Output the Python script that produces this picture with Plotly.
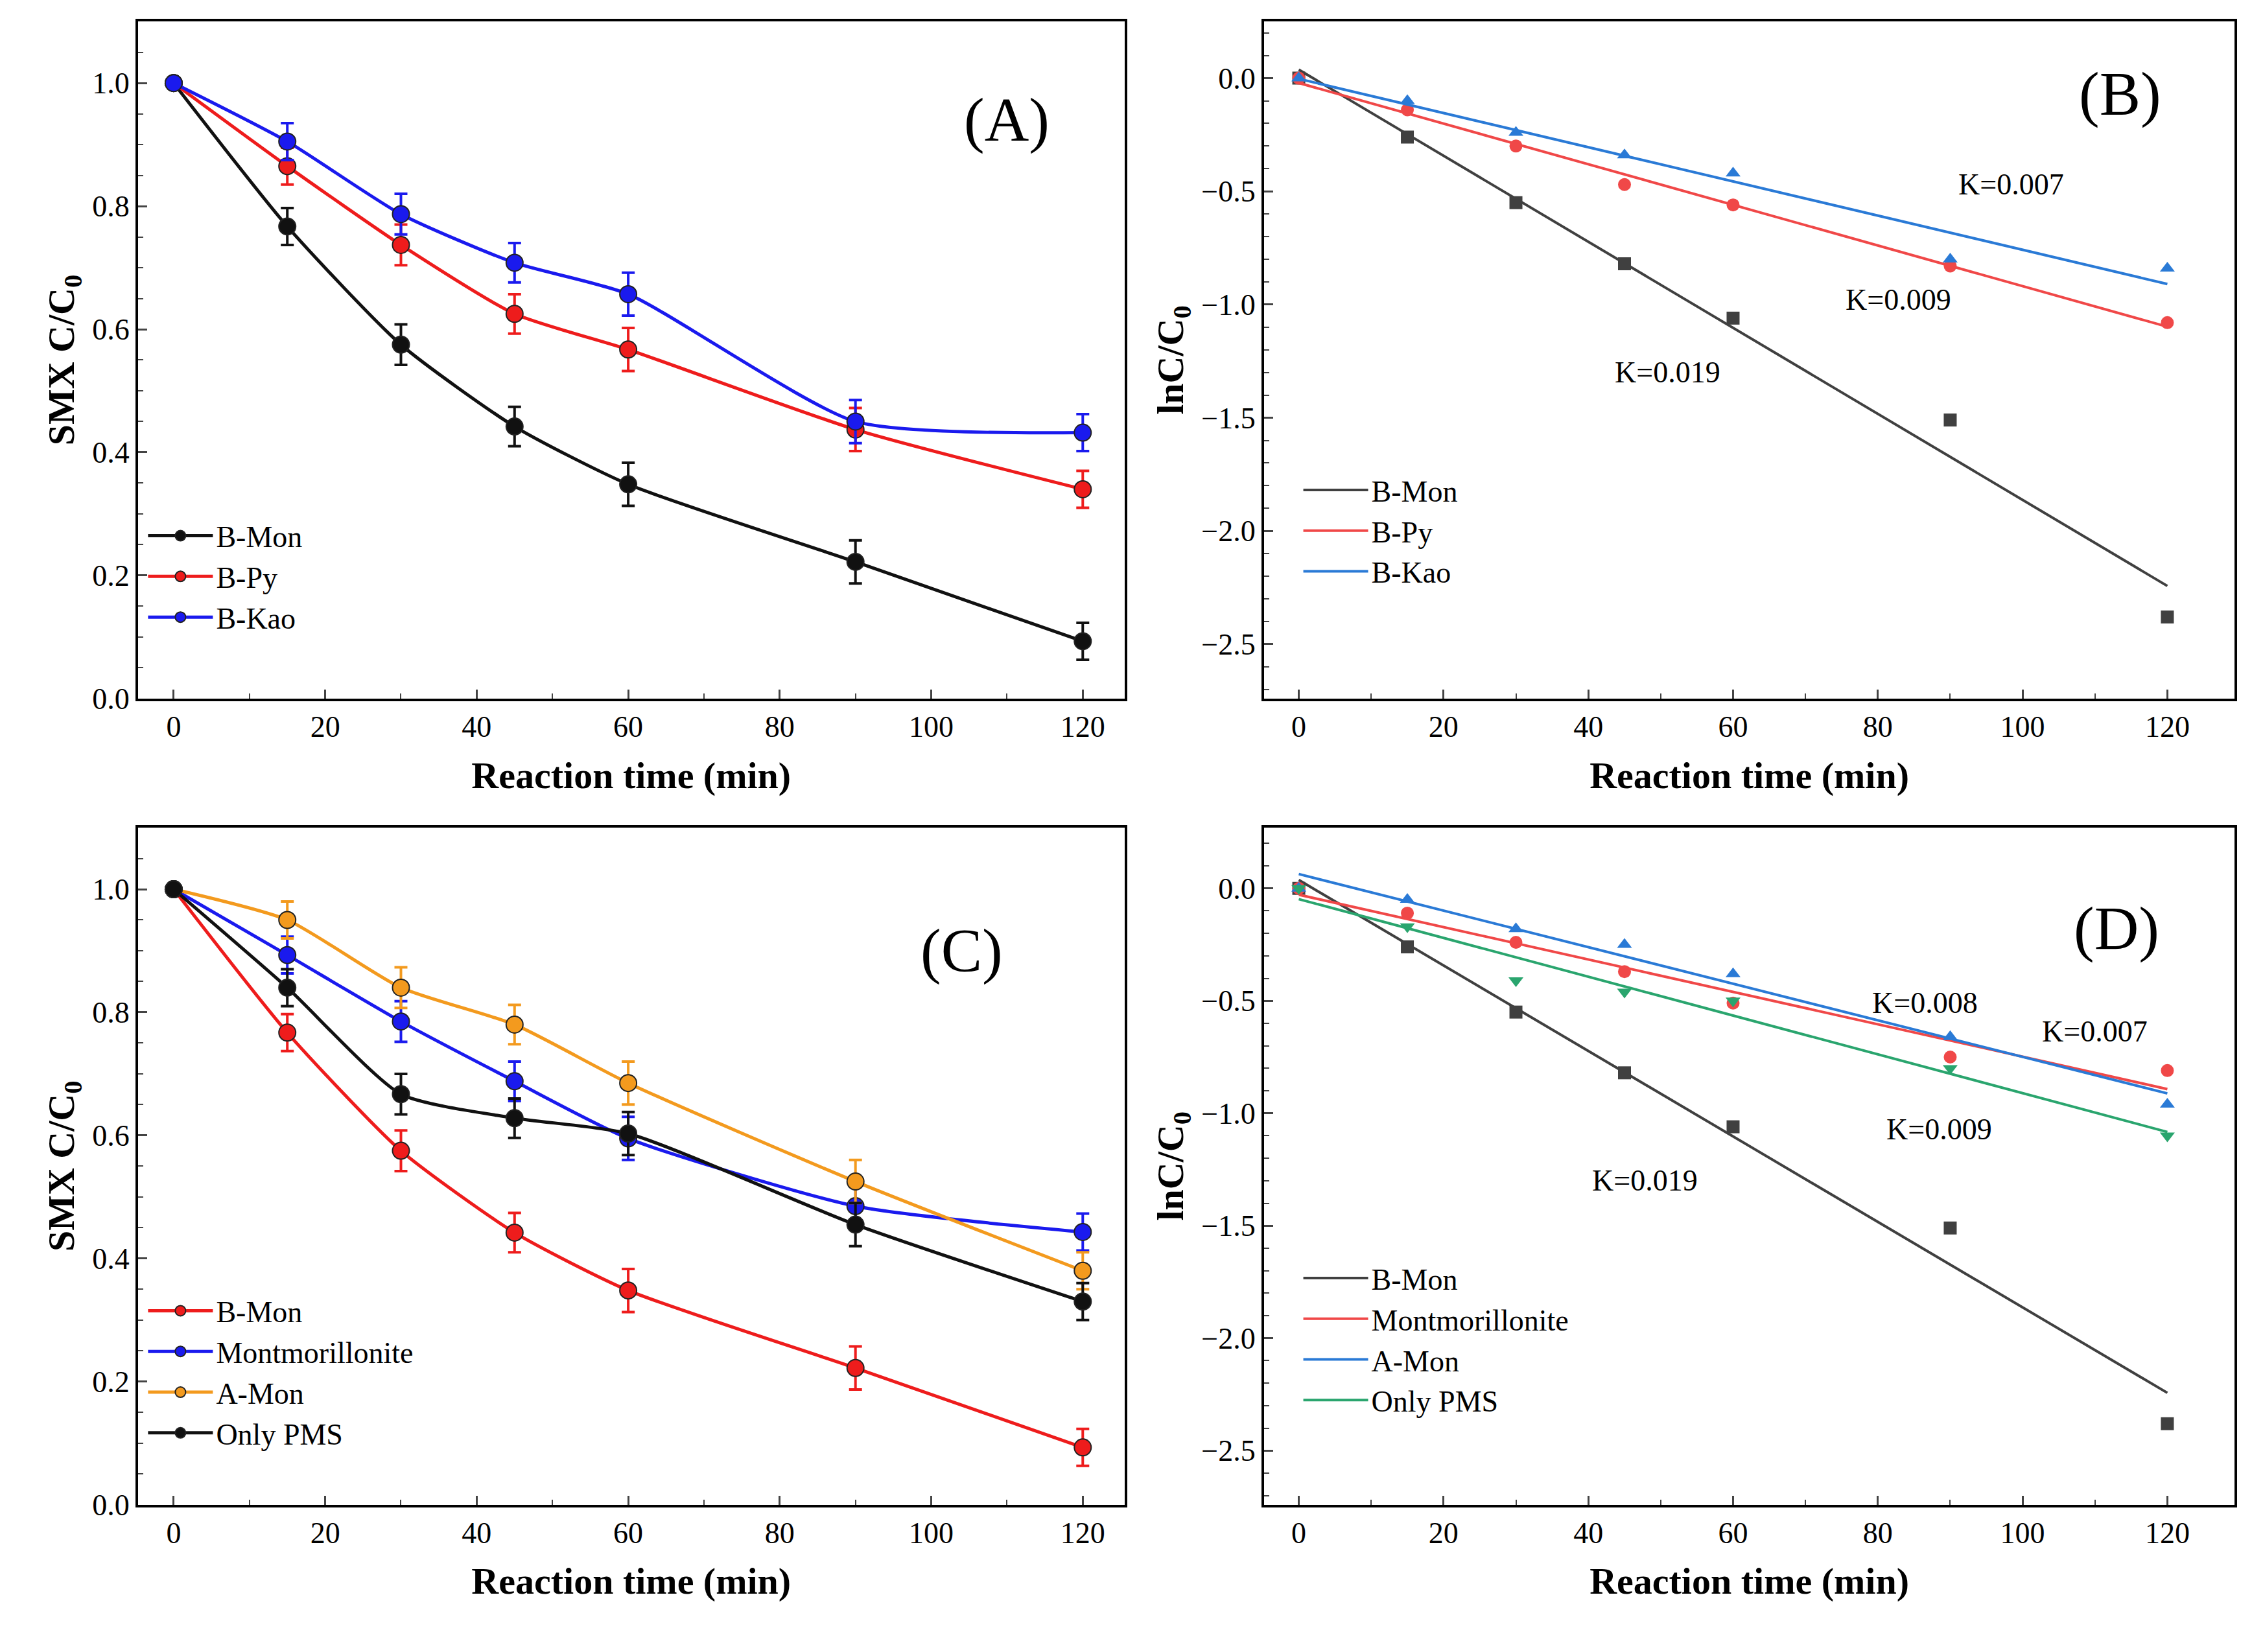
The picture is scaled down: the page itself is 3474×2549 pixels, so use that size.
import numpy as np
import plotly.graph_objects as go
from plotly.subplots import make_subplots

t = [0, 15, 30, 45, 60, 90, 120]

# (A) SMX C/C0
a_bmon = [1.0, 0.767, 0.575, 0.442, 0.348, 0.222, 0.093]
a_bpy = [1.0, 0.865, 0.737, 0.625, 0.567, 0.437, 0.340]
a_bkao = [1.0, 0.905, 0.787, 0.708, 0.657, 0.450, 0.432]
a_err = [0.0, 0.03, 0.033, 0.032, 0.035, 0.035, 0.03]

# (B) lnC/C0
b_bmon = [0.0, -0.26, -0.55, -0.82, -1.06, -1.51, -2.38]
b_bpy = [0.0, -0.14, -0.30, -0.47, -0.56, -0.83, -1.08]
b_bkao = [0.0, -0.10, -0.24, -0.34, -0.42, -0.80, -0.84]

# (C) SMX C/C0
c_bmon = a_bmon
c_mont = [1.0, 0.893, 0.785, 0.688, 0.595, 0.485, 0.443]
c_amon = [1.0, 0.950, 0.840, 0.780, 0.685, 0.525, 0.380]
c_pms = [1.0, 0.840, 0.667, 0.628, 0.603, 0.455, 0.330]

# (D) lnC/C0
d_bmon = b_bmon
d_mont = [0.0, -0.11, -0.24, -0.37, -0.51, -0.75, -0.81]
d_amon = [0.0, -0.05, -0.18, -0.25, -0.38, -0.66, -0.96]
d_pms = [0.0, -0.17, -0.41, -0.46, -0.50, -0.80, -1.10]

FONT = "Liberation Serif"
BLACK, RED, BLUE, ORANGE = "#111111", "#ee1c1c", "#1a1aee", "#f39a1e"
GRAY, LRED, LBLUE, GREEN = "#404040", "#f04848", "#2a7ad6", "#2aa56e"

fig = make_subplots(rows=2, cols=2)

def curve(y, color, name, legend, row, col):
    fig.add_trace(go.Scatter(
        x=t, y=y, name=name, legend=legend, mode="lines+markers",
        line=dict(color=color, width=5, shape="spline", smoothing=0.6),
        marker=dict(size=26, color=color, line=dict(color="#222222", width=2)),
        error_y=dict(type="data", array=a_err, color=color, thickness=4, width=10),
    ), row=row, col=col)

def fit(y, color, name, legend, symbol, row, col):
    k, b = np.polyfit(t, y, 1)
    xs = np.array([0, 120])
    fig.add_trace(go.Scatter(x=xs, y=k * xs + b, name=name, legend=legend, mode="lines",
                             line=dict(color=color, width=4)), row=row, col=col)
    fig.add_trace(go.Scatter(x=t, y=y, mode="markers", showlegend=False,
                             marker=dict(size=20, color=color, symbol=symbol)), row=row, col=col)

curve(a_bmon, BLACK, "B-Mon", "legend", 1, 1)
curve(a_bpy, RED, "B-Py", "legend", 1, 1)
curve(a_bkao, BLUE, "B-Kao", "legend", 1, 1)

fit(b_bmon, GRAY, "B-Mon", "legend2", "square", 1, 2)
fit(b_bpy, LRED, "B-Py", "legend2", "circle", 1, 2)
fit(b_bkao, LBLUE, "B-Kao", "legend2", "triangle-up", 1, 2)

curve(c_bmon, RED, "B-Mon", "legend3", 2, 1)
curve(c_mont, BLUE, "Montmorillonite", "legend3", 2, 1)
curve(c_amon, ORANGE, "A-Mon", "legend3", 2, 1)
curve(c_pms, BLACK, "Only PMS", "legend3", 2, 1)

fit(d_bmon, GRAY, "B-Mon", "legend4", "square", 2, 2)
fit(d_mont, LRED, "Montmorillonite", "legend4", "circle", 2, 2)
fit(d_amon, LBLUE, "A-Mon", "legend4", "triangle-up", 2, 2)
fit(d_pms, GREEN, "Only PMS", "legend4", "triangle-down", 2, 2)

ax = dict(showline=True, mirror=True, linecolor="black", linewidth=4, ticks="inside",
          ticklen=14, tickwidth=3, showgrid=False, zeroline=False,
          tickfont=dict(family=FONT, size=46, color="black"),
          minor=dict(ticks="inside", ticklen=8, tickwidth=2))
xt = dict(ax, range=[-4.7, 125.5], tickvals=[0, 20, 40, 60, 80, 100, 120],
          title=dict(text="<b>Reaction time (min)</b>", font=dict(family=FONT, size=58), standoff=30))
yl = dict(ax, range=[0, 1.1], dtick=0.2, tickformat=".1f",
          title=dict(text="<b>SMX C/C<sub>0</sub></b>", font=dict(family=FONT, size=58), standoff=10))
yr = dict(ax, range=[-2.74, 0.25], dtick=0.5, tickformat=".1f",
          title=dict(text="<b>lnC/C<sub>0</sub></b>", font=dict(family=FONT, size=58), standoff=10))

lx0, lx1, rx0, rx1 = 0.059, 0.497, 0.559, 0.990
ty0, ty1, by0, by1 = 0.576, 0.99, 0.083, 0.497
fig.update_layout(
    xaxis=dict(xt, domain=[lx0, lx1]), yaxis=dict(yl, domain=[ty0, ty1]),
    xaxis2=dict(xt, domain=[rx0, rx1], range=[-4.8, 129.3]), yaxis2=dict(yr, domain=[ty0, ty1]),
    xaxis3=dict(xt, domain=[lx0, lx1]), yaxis3=dict(yl, domain=[by0, by1]),
    xaxis4=dict(xt, domain=[rx0, rx1], range=[-4.8, 129.3]), yaxis4=dict(yr, domain=[by0, by1], range=[-2.74, 0.27]),
)

lg = dict(bgcolor="rgba(0,0,0,0)", font=dict(family=FONT, size=46, color="black"),
          tracegroupgap=0, itemwidth=100, yanchor="top", xanchor="left")
fig.update_layout(
    legend=dict(lg, x=0.062, y=0.69),
    legend2=dict(lg, x=0.575, y=0.718),
    legend3=dict(lg, x=0.062, y=0.216),
    legend4=dict(lg, x=0.575, y=0.236),
)

def label(text, x, y, xref, yref, size=46, xanchor="left"):
    fig.add_annotation(x=x, y=y, xref=xref, yref=yref, text=text, showarrow=False,
                       xanchor=xanchor, font=dict(family=FONT, size=size, color="black"))

label("(A)", 110, 0.94, "x", "y", 95, "center")
label("(B)", 113.5, -0.07, "x2", "y2", 95, "center")
label("(C)", 104, 0.90, "x3", "y3", 95, "center")
label("(D)", 113, -0.18, "x4", "y4", 95, "center")
label("K=0.007", 90.9, -0.47, "x2", "y2")
label("K=0.009", 75.4, -0.98, "x2", "y2")
label("K=0.019", 43.5, -1.30, "x2", "y2")
label("K=0.008", 79, -0.51, "x4", "y4")
label("K=0.007", 102.5, -0.635, "x4", "y4")
label("K=0.009", 81, -1.07, "x4", "y4")
label("K=0.019", 40.3, -1.30, "x4", "y4")

fig.update_layout(width=3474, height=2549, paper_bgcolor="white", plot_bgcolor="white",
                  margin=dict(l=0, r=0, t=0, b=0), font=dict(family=FONT, color="black"))
fig.write_html("out.html")
